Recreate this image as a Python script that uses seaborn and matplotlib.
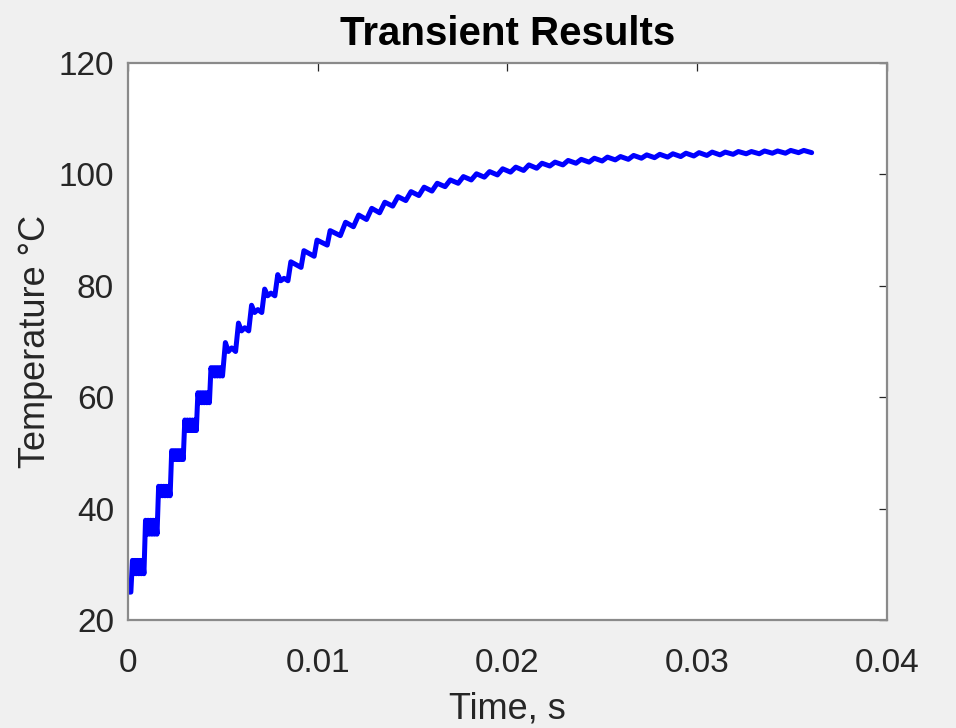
import numpy as np
import pandas as pd
import matplotlib
matplotlib.use("Agg")
import matplotlib.pyplot as plt
import seaborn as sns

# ---- data ----
start_temp = 25.0            # temperature at t = 0
first_pulse = 0.00015        # time of the first heating pulse, s
cycle_period = 0.00069       # pulse period, s

# temperature right after each heating pulse (top of each step)
peak_temp = [30.7, 37.9, 44.0, 50.4, 55.9, 60.8, 65.3, 69.8, 73.3, 76.5,
             79.4, 82.0, 84.3, 86.3, 88.2, 89.9, 91.4, 92.7, 93.9, 95.0,
             96.0, 96.9, 97.7, 98.4, 99.0, 99.6, 100.1, 100.5, 101.0, 101.3,
             101.7, 102.0, 102.2, 102.5, 102.7, 102.9, 103.1, 103.2, 103.4, 103.5,
             103.6, 103.7, 103.8, 103.9, 104.0, 104.0, 104.1, 104.1, 104.2, 104.2,
             104.3, 104.3]
# temperature at the end of each cycle, just before the next pulse
trough_temp = [28.3, 35.4, 42.3, 48.8, 54.0, 59.0, 63.8, 68.2, 71.9, 75.2,
               78.2, 80.9, 83.3, 85.3, 87.3, 89.0, 90.6, 91.9, 93.1, 94.3,
               95.3, 96.2, 97.0, 97.8, 98.4, 99.0, 99.5, 99.9, 100.4, 100.7,
               101.1, 101.5, 101.7, 102.0, 102.2, 102.4, 102.6, 102.7, 102.9, 103.0,
               103.1, 103.2, 103.3, 103.4, 103.5, 103.6, 103.7, 103.7, 103.8, 103.8,
               103.9, 103.9]

x_ticks = [0, 0.01, 0.02, 0.03, 0.04]
x_tick_labels = ["0", "0.01", "0.02", "0.03", "0.04"]
y_ticks = [20, 40, 60, 80, 100, 120]

# ---- build the trace from the per-cycle readings ----
P = cycle_period
t_vals = [0.0, first_pulse]
T_vals = [start_temp, start_temp]
for k, (pk, tr) in enumerate(zip(peak_temp, trough_temp)):
    tk = first_pulse + k * P
    rf = 0.12 if k < 7 else (0.22 if k < 16 else 0.4)
    t_vals.append(tk + rf * P)
    T_vals.append(pk)
    if k < 7:
        ts = np.linspace(tk + rf * P, tk + P, 10)[1:]
        for i, tt in enumerate(ts):
            t_vals.append(tt)
            T_vals.append(tr if i % 2 == 0 else pk)
    elif k < 12:
        t_vals += [tk + 0.45 * P, tk + 0.7 * P, tk + P]
        T_vals += [tr, tr + 0.4 * (pk - tr), tr]
    else:
        t_vals.append(tk + P)
        T_vals.append(tr)

df = pd.DataFrame({"Time": t_vals, "Temperature": T_vals})

# ---- plotting ----
sns.set_theme(style="white")
plt.rcParams["font.family"] = ["Liberation Sans", "DejaVu Sans"]

fig = plt.figure(figsize=(9.56, 7.28), dpi=100, facecolor="#f0f0f0")
ax = fig.add_axes([0.1339, 0.1484, 0.7939, 0.7651])
ax.set_facecolor("white")

sns.lineplot(data=df, x="Time", y="Temperature", ax=ax, color="#0000ff",
             linewidth=3.6, estimator=None, sort=False)

ax.set_xlim(0, 0.04)
ax.set_ylim(20, 120)
ax.set_xticks(x_ticks)
ax.set_xticklabels(x_tick_labels)
ax.set_yticks(y_ticks)

for sp in ax.spines.values():
    sp.set_visible(True)
    sp.set_color("#8a8a8a")
    sp.set_linewidth(1.6)

ax.tick_params(axis="both", direction="in", length=6, width=0.9,
               color="#262626", labelcolor="#262626", labelsize=24,
               top=True, right=True)
ax.tick_params(axis="x", pad=20)
ax.tick_params(axis="y", pad=10)

ax.set_xlabel("Time, s", fontsize=26, color="#262626", labelpad=9)
ax.set_ylabel("Temperature °C", fontsize=26, color="#262626", labelpad=4)
ax.set_title("Transient Results", fontsize=29, fontweight="bold",
             color="black", pad=13)

fig.savefig("out.png", dpi=100, facecolor=fig.get_facecolor())
